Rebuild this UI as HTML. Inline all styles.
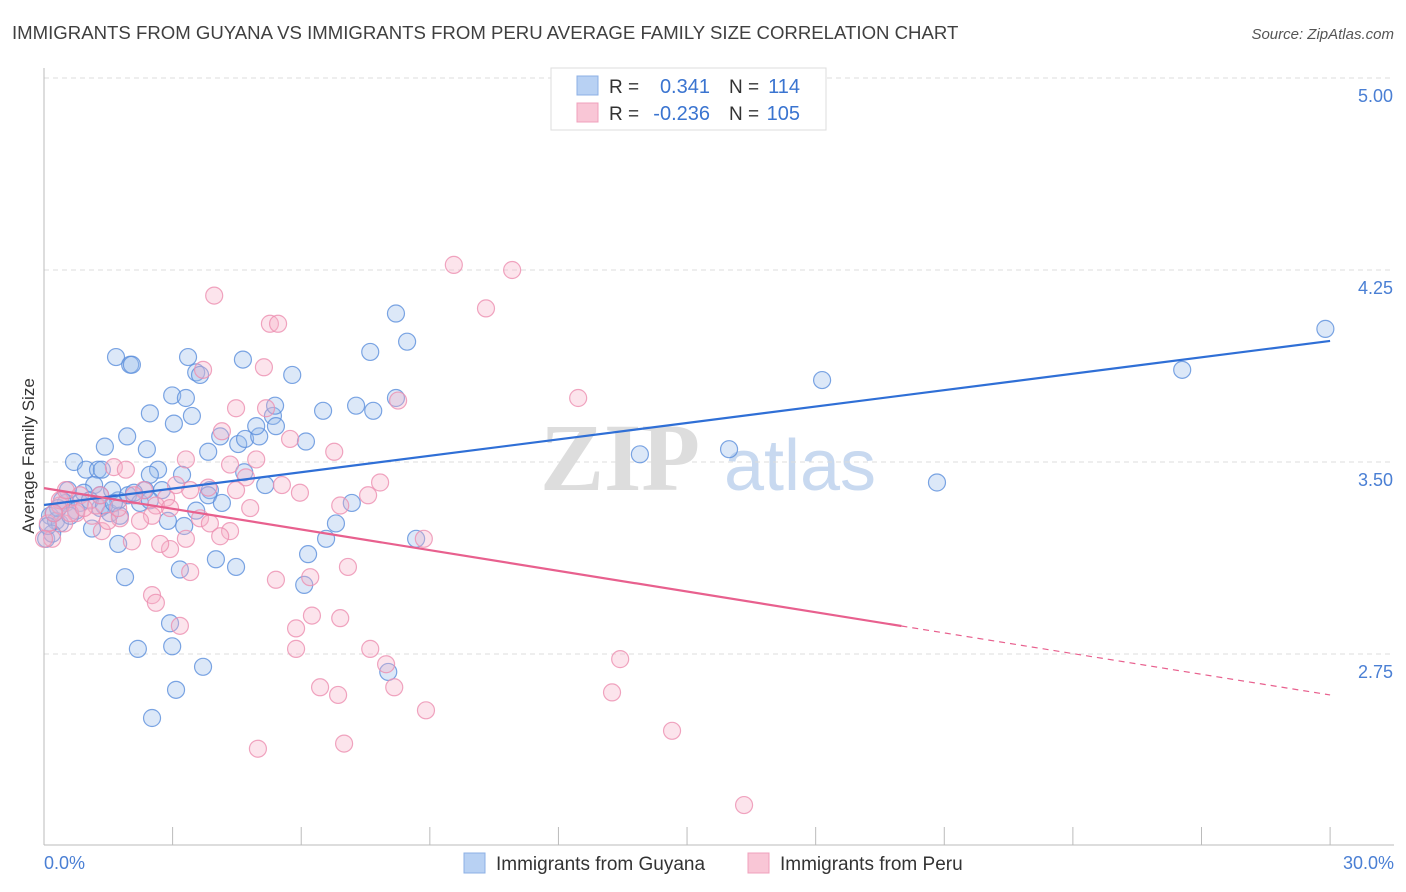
<!DOCTYPE html>
<html><head><meta charset="utf-8"><style>
body{margin:0;background:#fff;font-family:"Liberation Sans",sans-serif;}
#wrap{position:relative;width:1406px;height:892px;overflow:hidden;}
</style></head><body>
<div id="wrap">
<svg id="svg" width="1406" height="892" xmlns="http://www.w3.org/2000/svg">
<text x="12" y="39" font-size="18.6" fill="#3f3f3f">IMMIGRANTS FROM GUYANA VS IMMIGRANTS FROM PERU AVERAGE FAMILY SIZE CORRELATION CHART</text>
<text x="1394" y="39" font-size="15" fill="#555" font-style="italic" text-anchor="end">Source: ZipAtlas.com</text>
<text x="620" y="490" font-size="96" font-family="Liberation Serif" fill="#ddd" text-anchor="middle" font-weight="bold">ZIP</text>
<text x="800" y="490" font-size="72" fill="#c8d9f0" text-anchor="middle">atlas</text>
<g id="grid"></g><g id="axes"></g><g id="pts"></g><g id="lines"></g>
<text x="34" y="456" font-size="17" fill="#333" text-anchor="middle" transform="rotate(-90 34 456)">Average Family Size</text>
<text x="44" y="869" font-size="18" fill="#4a7fd4">0.0%</text>
<text x="1394" y="869" font-size="18" fill="#4a7fd4" text-anchor="end">30.0%</text>
<g>
<rect x="551" y="68" width="275" height="62" fill="#fff" stroke="#ddd"/>
<rect x="577" y="76" width="21" height="19" fill="#b8d1f3" stroke="#8cb0e6"/>
<rect x="577" y="103" width="21" height="19" fill="#f9c6d6" stroke="#f0a0bc"/>
<text x="609" y="93" font-size="19" fill="#333">R =</text>
<text x="710" y="93" font-size="20" fill="#3a74d0" text-anchor="end">0.341</text>
<text x="729" y="93" font-size="19" fill="#333">N =</text>
<text x="800" y="93" font-size="20" fill="#3a74d0" text-anchor="end">114</text>
<text x="609" y="120" font-size="19" fill="#333">R =</text>
<text x="710" y="120" font-size="20" fill="#3a74d0" text-anchor="end">-0.236</text>
<text x="729" y="120" font-size="19" fill="#333">N =</text>
<text x="800" y="120" font-size="20" fill="#3a74d0" text-anchor="end">105</text>
</g>
<g>
<rect x="464" y="853" width="21" height="20" fill="#b8d1f3" stroke="#8cb0e6"/>
<text x="496" y="870" font-size="19" fill="#333">Immigrants from Guyana</text>
<rect x="748" y="853" width="21" height="20" fill="#f9c6d6" stroke="#f0a0bc"/>
<text x="780" y="870" font-size="19" fill="#333">Immigrants from Peru</text>
</g>
</svg>
</div>
<script>
const yTicks=[5.00,4.25,3.50,2.75];
const xTickPct=[0,3,6,9,12,15,18,21,24,27,30];
const blueX=[1.68,2.01,2.05,3.36,3.55,3.64,4.64,5.79,7.61,8.21,8.47,2.99,3.31,2.47,3.45,3.03,1.94,1.42,2.40,4.11,3.83,4.53,4.69,5.02,4.95,5.34,5.39,5.41,6.11,6.51,7.28,7.68,8.21,0.70,0.98,1.26,1.35,2.66,2.47,3.22,4.67,5.16,3.87,3.83,4.15,3.55,2.89,3.27,1.17,0.56,0.51,0.14,0.28,0.37,0.84,1.31,1.54,1.73,1.96,2.24,2.36,1.77,1.12,0.05,0.19,1.73,2.75,3.17,4.01,4.48,1.89,6.16,6.58,6.81,7.18,6.07,2.19,2.94,2.99,3.08,3.71,2.52,8.03,8.68,18.15,26.55,29.89,15.98,13.90,20.83,1.31,0.42,0.75,0.93,1.59,0.61,0.33,0.23,0.09,1.07,2.10,1.40,1.63,2.47];
const blueY=[3.91,3.88,3.88,3.91,3.85,3.84,3.90,3.84,3.93,4.08,3.97,3.76,3.75,3.69,3.68,3.65,3.60,3.56,3.55,3.60,3.54,3.57,3.59,3.60,3.64,3.68,3.72,3.64,3.58,3.70,3.72,3.70,3.75,3.50,3.47,3.47,3.47,3.47,3.45,3.45,3.46,3.41,3.39,3.37,3.34,3.31,3.27,3.25,3.41,3.39,3.34,3.29,3.27,3.26,3.34,3.32,3.30,3.35,3.37,3.34,3.39,3.29,3.24,3.20,3.22,3.18,3.39,3.08,3.12,3.09,3.05,3.14,3.20,3.26,3.34,3.02,2.77,2.87,2.78,2.61,2.70,2.50,2.68,3.20,3.82,3.86,4.02,3.55,3.53,3.42,3.37,3.35,3.31,3.38,3.39,3.29,3.32,3.30,3.25,3.35,3.38,3.33,3.34,3.35];
const pinkX=[9.56,10.92,10.31,3.97,5.27,5.46,5.13,3.71,12.46,8.26,4.48,5.18,4.15,5.74,6.77,4.95,1.63,1.91,3.31,4.71,5.55,7.84,7.56,6.91,4.48,3.83,3.41,2.85,2.33,2.10,2.61,2.94,3.64,3.87,4.34,4.81,4.11,3.31,2.94,2.71,2.05,1.35,1.12,0.75,0.47,0.19,0.09,0.37,0.84,1.21,1.77,2.52,8.86,7.09,3.41,5.41,6.21,2.52,2.61,3.17,6.25,6.91,5.88,5.88,7.61,7.98,8.17,6.44,6.86,8.91,4.99,7.00,13.44,13.25,14.65,16.33,0.37,0.61,0.93,1.31,1.49,2.24,1.73,0.00,0.23,0.51,5.97,4.34,3.08];
const pinkY=[4.27,4.25,4.10,4.15,4.04,4.04,3.87,3.86,3.75,3.74,3.71,3.71,3.62,3.59,3.54,3.51,3.48,3.47,3.51,3.44,3.41,3.42,3.37,3.33,3.39,3.40,3.39,3.36,3.39,3.37,3.33,3.32,3.28,3.26,3.23,3.32,3.21,3.20,3.16,3.18,3.19,3.23,3.29,3.30,3.26,3.20,3.26,3.33,3.37,3.33,3.28,3.29,3.20,3.09,3.07,3.04,3.05,2.98,2.95,2.86,2.90,2.89,2.85,2.77,2.77,2.71,2.62,2.62,2.59,2.53,2.38,2.40,2.73,2.60,2.45,2.16,3.35,3.30,3.32,3.37,3.27,3.27,3.32,3.20,3.30,3.39,3.38,3.49,3.41];
const blueLine=[3.332,3.973];
const pinkLine=[3.398,2.59];
const pinkSolidEnd=20;
const NS='http://www.w3.org/2000/svg';
const sx=p=>44+p*42.87, sy=v=>78+(5-v)*256;
function mk(t,a,parent){const e=document.createElementNS(NS,t);for(const k in a)e.setAttribute(k,a[k]);document.getElementById(parent).appendChild(e);return e;}
yTicks.forEach(v=>{
 const l=mk('line',{x1:44,x2:1394,y1:sy(v),y2:sy(v),stroke:'#ddd','stroke-dasharray':'5,4'},'grid');
 
 
 const t=mk('text',{x:1393,y:sy(v)+24,'font-size':18,fill:'#4a7fd4','text-anchor':'end'},'grid');
 t.textContent=v.toFixed(2);
 
 
});
const ax=mk('line',{x1:44,x2:44,y1:68,y2:845,stroke:'#bbb'},'axes');


const bx=mk('line',{x1:44,x2:1394,y1:845,y2:845,stroke:'#bbb'},'axes');


xTickPct.forEach(p=>{
 const t=mk('line',{x1:sx(p),x2:sx(p),y1:827,y2:845,stroke:'#bbb'},'axes');
 
 
});
function dots(X,Y,fill,stroke,name){X.forEach((x,i)=>{
 const c=mk('circle',{cx:sx(x),cy:sy(Y[i]),r:8.5,fill:fill,'fill-opacity':0.35,stroke:stroke,'stroke-width':1.2,'stroke-opacity':0.8},'pts');
 
 
});}
dots(blueX,blueY,'#9bbcec','#5b8fdc','guyana-point');
dots(pinkX,pinkY,'#f5b3c9','#ec8fb0','peru-point');
const bl=mk('line',{x1:sx(0),y1:sy(blueLine[0]),x2:sx(30),y2:sy(blueLine[1]),stroke:'#2f6fd6','stroke-width':2.2},'lines');


const pm=v=>pinkLine[0]+(pinkLine[1]-pinkLine[0])*v/30;
const pl=mk('line',{x1:sx(0),y1:sy(pinkLine[0]),x2:sx(pinkSolidEnd),y2:sy(pm(pinkSolidEnd)),stroke:'#e8608e','stroke-width':2.2},'lines');


const pd=mk('line',{x1:sx(pinkSolidEnd),y1:sy(pm(pinkSolidEnd)),x2:sx(30),y2:sy(pinkLine[1]),stroke:'#e8608e','stroke-width':1.2,'stroke-dasharray':'6,5'},'lines');


</script>
</body></html>
